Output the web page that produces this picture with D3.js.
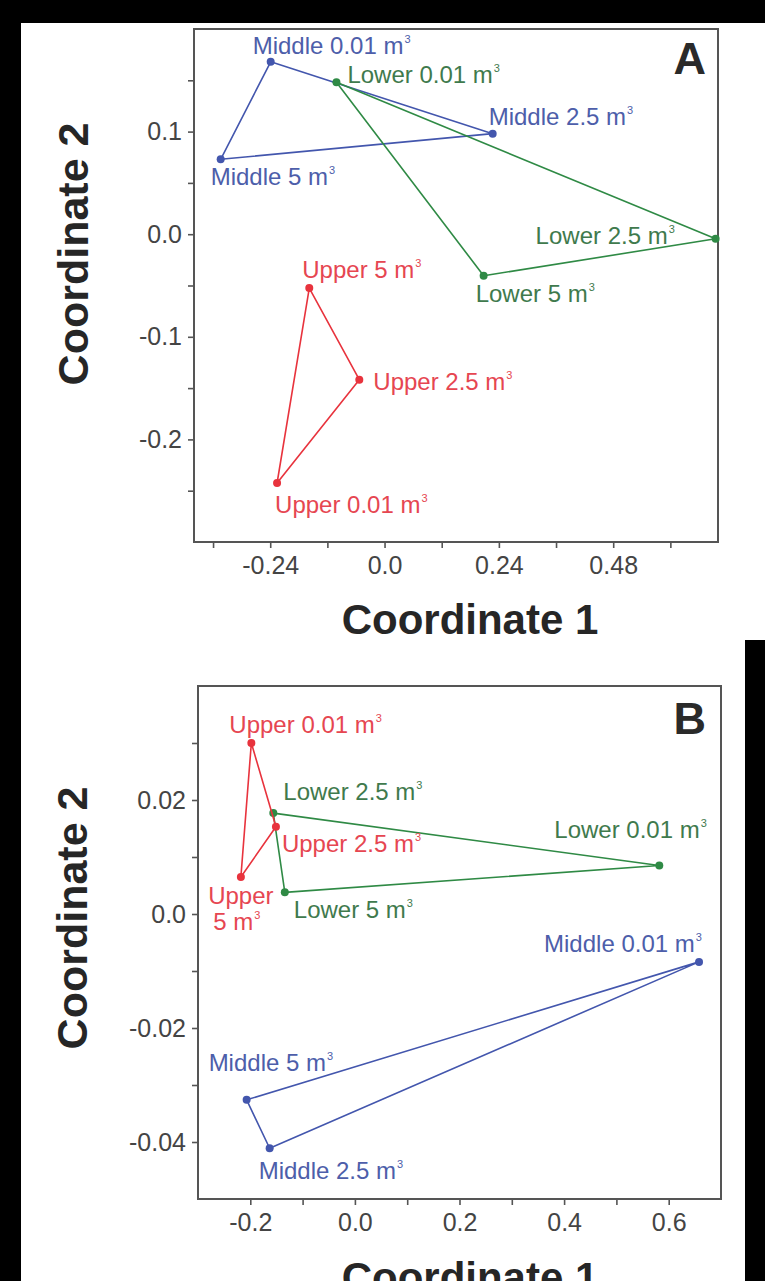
<!DOCTYPE html>
<html>
<head>
<meta charset="utf-8">
<script src="https://cdn.jsdelivr.net/npm/d3@7/dist/d3.min.js"></script>
<style>
  html, body { margin: 0; padding: 0; background: #000; }
  svg { display: block; }
</style>
</head>
<body>
<svg id="chart" width="765" height="1281"></svg>
<script>
// ---------------- DATA ----------------
const sizes = ["0.01", "2.5", "5"];

// Panel A (point order: 0.01, 2.5, 5 m3)
const upperA_x  = [-0.2256, -0.0530, -0.1580];
const upperA_y  = [-0.2425, -0.1418, -0.0525];
const middleA_x = [-0.2390,  0.2270, -0.3440];
const middleA_y = [ 0.1680,  0.0980,  0.0730];
const lowerA_x  = [-0.1010,  0.6950,  0.2080];
const lowerA_y  = [ 0.1480, -0.0045, -0.0405];

// Panel B
const upperB_x  = [-0.1980, -0.1510, -0.2180];
const upperB_y  = [ 0.0300,  0.0153,  0.0065];
const middleB_x = [ 0.6580, -0.1630, -0.2070];
const middleB_y = [-0.0084, -0.0411, -0.0326];
const lowerB_x  = [ 0.5820, -0.1560, -0.1340];
const lowerB_y  = [ 0.0085,  0.0177,  0.0038];

// Axis ticks
const ticksAx  = [-0.36, -0.24, -0.12, 0, 0.12, 0.24, 0.36, 0.48, 0.60];
const labelsAx = {"-0.24": "-0.24", "0": "0.0", "0.24": "0.24", "0.48": "0.48"};
const ticksAy  = [0.15, 0.10, 0.05, 0, -0.05, -0.10, -0.15, -0.20, -0.25];
const labelsAy = {"0.1": "0.1", "0": "0.0", "-0.1": "-0.1", "-0.2": "-0.2"};
const ticksBx  = [-0.2, -0.1, 0, 0.1, 0.2, 0.3, 0.4, 0.5, 0.6];
const labelsBx = {"-0.2": "-0.2", "0": "0.0", "0.2": "0.2", "0.4": "0.4", "0.6": "0.6"};
const ticksBy  = [0.03, 0.02, 0.01, 0, -0.01, -0.02, -0.03, -0.04];
const labelsBy = {"0.02": "0.02", "0": "0.0", "-0.02": "-0.02", "-0.04": "-0.04"};

const xTitle = "Coordinate 1";
const yTitle = "Coordinate 2";

// ---------------- STYLE / LAYOUT ----------------
const FONT = "'Liberation Sans', Arial, Helvetica, sans-serif";
const colors = {
  Upper:  {line: "#e8333d", text: "#e64651"},
  Middle: {line: "#4356ad", text: "#4d5eaa"},
  Lower:  {line: "#2f8a45", text: "#3f7a4d"}
};

const svg = d3.select("#chart");
svg.append("rect").attr("width", 765).attr("height", 1281).attr("fill", "#fff");
// black photo borders
svg.append("rect").attr("x", 0).attr("y", 0).attr("width", 765).attr("height", 23).attr("fill", "#000");
svg.append("rect").attr("x", 0).attr("y", 0).attr("width", 21).attr("height", 1281).attr("fill", "#000");
svg.append("rect").attr("x", 745).attr("y", 640).attr("width", 20).attr("height", 641).attr("fill", "#000");

const panels = [
  {
    letter: "A", left: 194, right: 718, top: 29, bottom: 542,
    xDomain: [-0.4, 0.7], yDomain: [-0.3, 0.2],
    ticksX: ticksAx, labelsX: labelsAx, ticksY: ticksAy, labelsY: labelsAy,
    xTitlePos: [470, 634], yTitlePos: [88, 254], letterPos: [706, 74],
    groups: [
      {name: "Middle", xs: middleA_x, ys: middleA_y,
       lab: [{dx: -18, dy: -8}, {dx: -4, dy: -9}, {dx: -10, dy: 26}]},
      {name: "Lower", xs: lowerA_x, ys: lowerA_y,
       lab: [{dx: 11, dy: 1}, {dx: -180, dy: 5}, {dx: -8, dy: 26}]},
      {name: "Upper", xs: upperA_x, ys: upperA_y,
       lab: [{dx: -2, dy: 30}, {dx: 14, dy: 10}, {dx: -7, dy: -10}]}
    ]
  },
  {
    letter: "B", left: 198, right: 721, top: 686, bottom: 1199,
    xDomain: [-0.3, 0.7], yDomain: [-0.05, 0.04],
    ticksX: ticksBx, labelsX: labelsBx, ticksY: ticksBy, labelsY: labelsBy,
    xTitlePos: [470, 1292], yTitlePos: [87, 918], letterPos: [706, 734],
    groups: [
      {name: "Middle", xs: middleB_x, ys: middleB_y,
       lab: [{dx: -155, dy: -10}, {dx: -11, dy: 31}, {dx: -38, dy: -29}]},
      {name: "Lower", xs: lowerB_x, ys: lowerB_y,
       lab: [{dx: -105, dy: -28}, {dx: 10, dy: -13}, {dx: 9, dy: 26}]},
      {name: "Upper", xs: upperB_x, ys: upperB_y,
       lab: [{dx: -22, dy: -10}, {dx: 6, dy: 25}, {dx: 0, dy: 27, split: true}]}
    ]
  }
];

function keyOf(v) { return String(+v.toFixed(4)); }

function addLabel(g, x, y, text, color, anchor) {
  const t = g.append("text")
    .attr("x", x).attr("y", y)
    .attr("text-anchor", anchor || "start")
    .attr("font-family", FONT).attr("font-size", 24)
    .attr("fill", color);
  t.append("tspan").text(text + " m");
  t.append("tspan").attr("font-size", 11).attr("dy", -11).attr("dx", 1).text("3");
  return t;
}

panels.forEach(p => {
  const x = d3.scaleLinear().domain(p.xDomain).range([p.left, p.right]);
  const y = d3.scaleLinear().domain(p.yDomain).range([p.bottom, p.top]);
  const g = svg.append("g");

  // axes
  const xAxis = d3.axisBottom(x).tickValues(p.ticksX).tickSize(6).tickSizeOuter(0)
    .tickPadding(8).tickFormat(d => p.labelsX[keyOf(d)] || "");
  const yAxis = d3.axisLeft(y).tickValues(p.ticksY).tickSize(6).tickSizeOuter(0)
    .tickPadding(6).tickFormat(d => p.labelsY[keyOf(d)] || "");

  const gx = g.append("g").attr("transform", `translate(0,${p.bottom})`).call(xAxis);
  const gy = g.append("g").attr("transform", `translate(${p.left},0)`).call(yAxis);
  [gx, gy].forEach(ax => {
    ax.select(".domain").remove();
    ax.selectAll(".tick line").attr("stroke", "#555").attr("stroke-width", 1.6);
    ax.selectAll(".tick text").attr("font-family", FONT).attr("font-size", 25).attr("fill", "#444");
  });
  gx.selectAll(".tick text").attr("dy", "0.71em");

  // frame
  g.append("rect").attr("x", p.left).attr("y", p.top)
    .attr("width", p.right - p.left).attr("height", p.bottom - p.top)
    .attr("fill", "none").attr("stroke", "#555").attr("stroke-width", 2);

  // titles
  g.append("text").attr("x", p.xTitlePos[0]).attr("y", p.xTitlePos[1])
    .attr("text-anchor", "middle").attr("font-family", FONT).attr("font-weight", "bold")
    .attr("font-size", 42).attr("fill", "#262626").text(xTitle);
  g.append("text").attr("transform", `translate(${p.yTitlePos[0]},${p.yTitlePos[1]}) rotate(-90)`)
    .attr("text-anchor", "middle").attr("font-family", FONT).attr("font-weight", "bold")
    .attr("font-size", 43).attr("fill", "#262626").text(yTitle);
  g.append("text").attr("x", p.letterPos[0]).attr("y", p.letterPos[1])
    .attr("text-anchor", "end").attr("font-family", FONT).attr("font-weight", "bold")
    .attr("font-size", 45).attr("fill", "#2a2a2a").text(p.letter);

  // polygons, points, labels
  p.groups.forEach(gr => {
    const pts = gr.xs.map((v, i) => [x(v), y(gr.ys[i])]);
    g.append("path")
      .attr("d", d3.line()(pts.concat([pts[0]])))
      .attr("fill", "none").attr("stroke", colors[gr.name].line)
      .attr("stroke-width", 1.6).attr("stroke-linejoin", "round");
    g.selectAll(null).data(pts).enter().append("circle")
      .attr("cx", d => d[0]).attr("cy", d => d[1]).attr("r", 4)
      .attr("fill", colors[gr.name].line);
    pts.forEach((pt, i) => {
      const L = gr.lab[i];
      if (L.split) {
        g.append("text").attr("x", pt[0] + L.dx).attr("y", pt[1] + L.dy)
          .attr("text-anchor", "middle").attr("font-family", FONT).attr("font-size", 24)
          .attr("fill", colors[gr.name].text).text(gr.name);
        addLabel(g, pt[0] + L.dx - 4, pt[1] + L.dy + 26, sizes[i], colors[gr.name].text, "middle");
      } else {
        addLabel(g, pt[0] + L.dx, pt[1] + L.dy, gr.name + " " + sizes[i], colors[gr.name].text, "start");
      }
    });
  });
});
</script>
</body>
</html>
